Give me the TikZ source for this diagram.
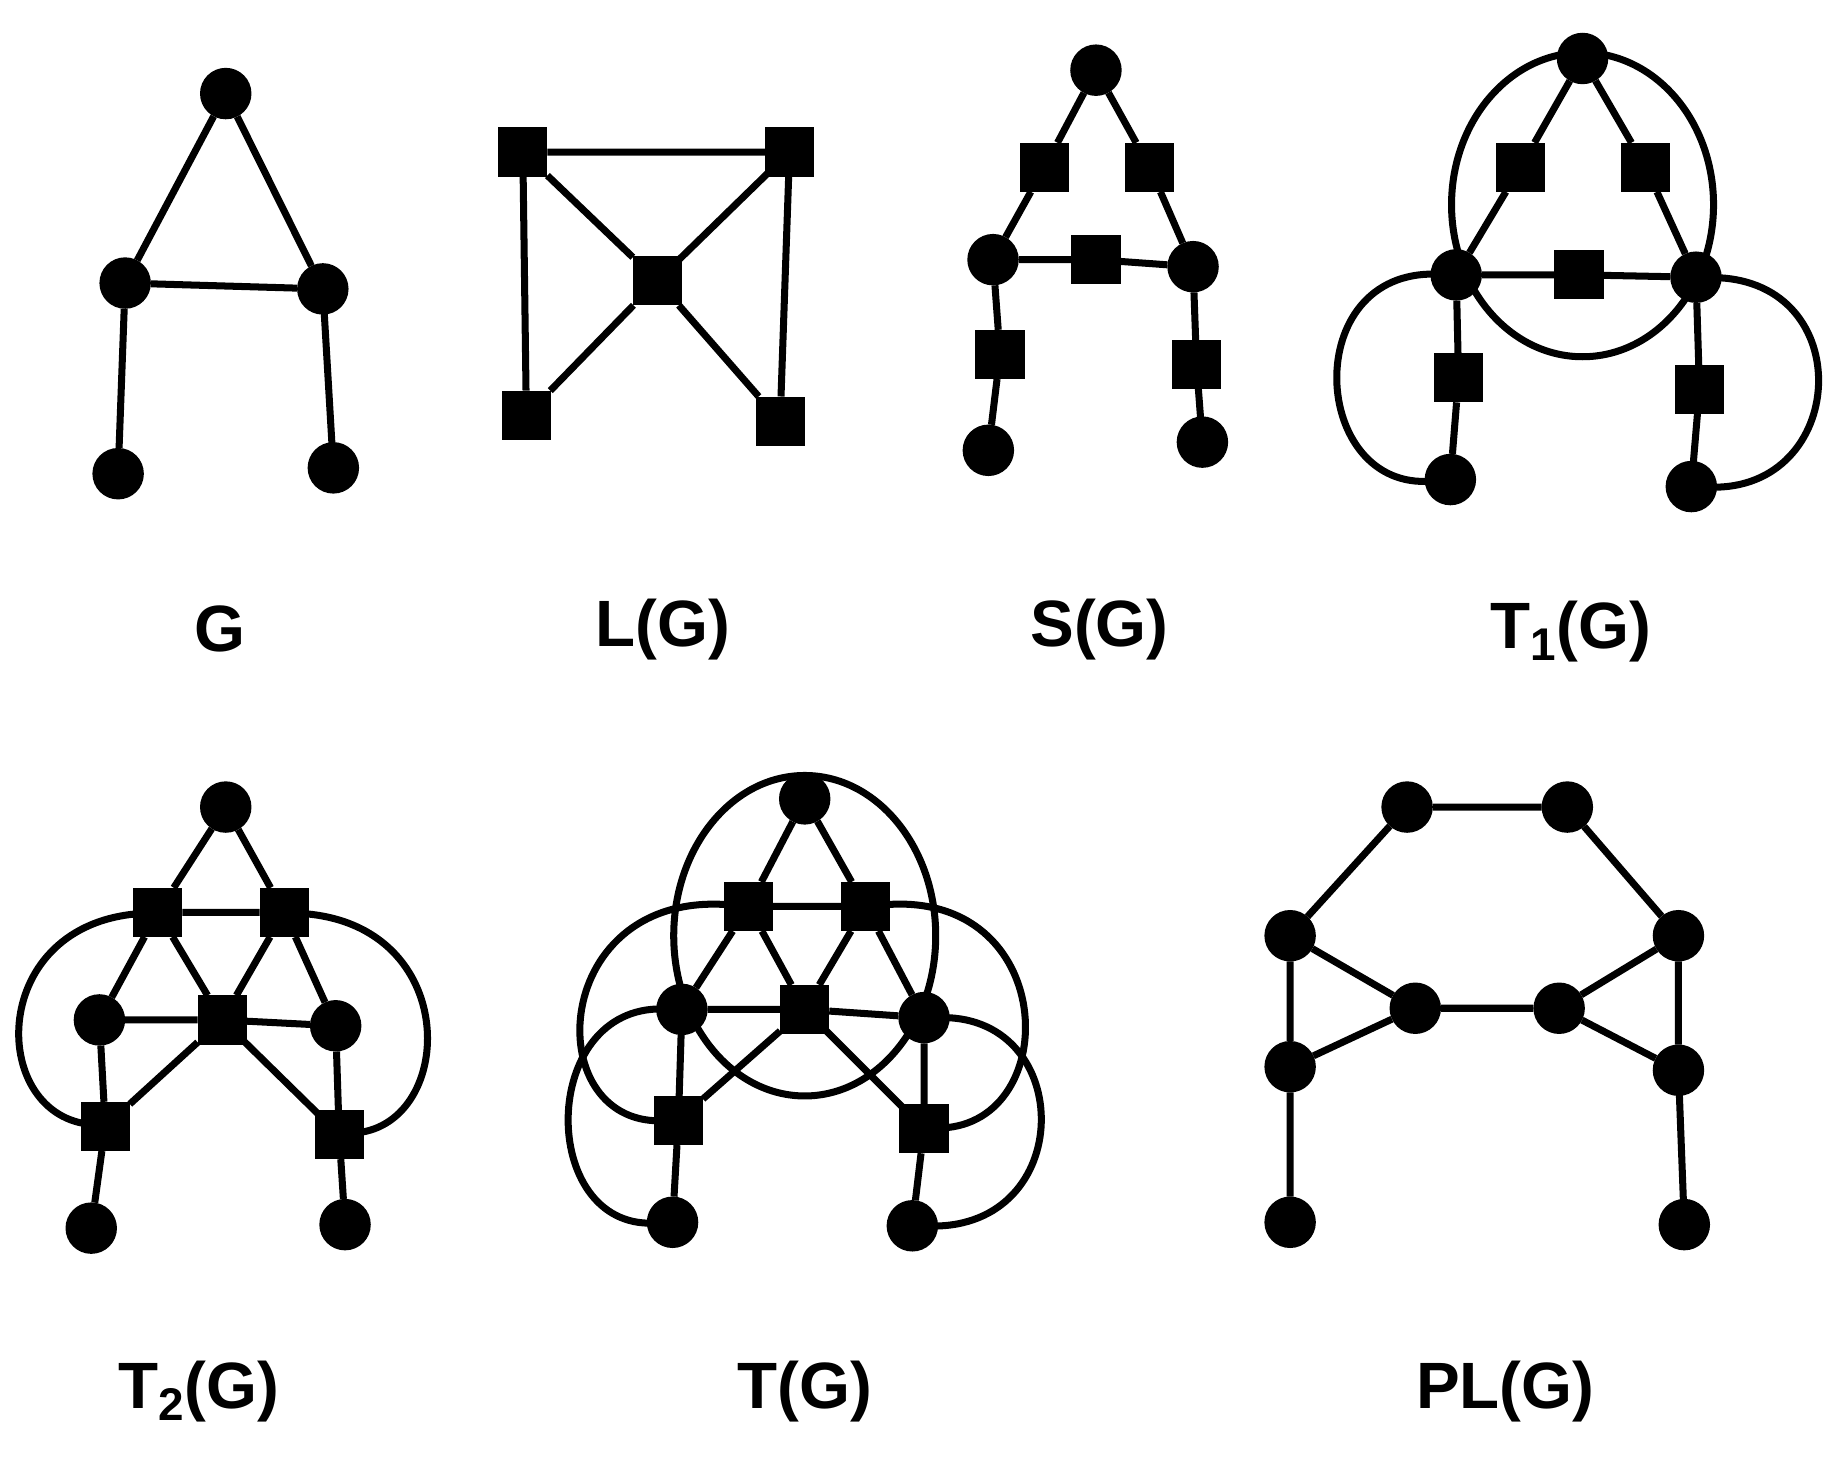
\documentclass[tikz,border=0pt]{standalone}
\usepackage{fontspec}
\setmainfont{Liberation Sans}
\begin{document}
\begin{tikzpicture}[x=0.5pt,y=-0.5pt,
  vtx/.style={circle,fill=black,inner sep=0pt,outer sep=0pt,minimum size=22pt},
  sq/.style={rectangle,fill=black,inner sep=0pt,outer sep=0pt,minimum size=21pt},
  lbl/.style={font=\fontsize{28}{32}\selectfont\bfseries},
  every path/.style={line width=3pt,shorten <=-3pt,shorten >=-3pt}]
\useasboundingbox (0,0) rectangle (1568,1246);
% G
\node[vtx] (g1) at (193,80) {}; \node[vtx] (g2) at (107,242) {}; \node[vtx] (g3) at (276,247) {};
\node[vtx] (g4) at (101,405) {}; \node[vtx] (g5) at (285,400) {};
\draw (g1)--(g2) (g2)--(g3) (g3)--(g1) (g2)--(g4) (g3)--(g5);
\node[lbl] (lg) at (188,538) {G};
% L(G)
\node[sq] (l1) at (447,130) {}; \node[sq] (l2) at (675,130) {}; \node[sq] (l3) at (562,240) {};
\node[sq] (l4) at (450,355) {}; \node[sq] (l5) at (667,360) {};
\draw (l1)--(l2) (l2)--(l5) (l5)--(l3) (l3)--(l1) (l1)--(l4) (l4)--(l3) (l3)--(l2);
\node[lbl] (llg) at (567,538) {L(G)};
% S(G)
\node[vtx] (s1) at (937,60) {}; \node[sq] (s2) at (893,143) {}; \node[sq] (s3) at (983,143) {};
\node[vtx] (s4) at (849,222) {}; \node[sq] (s5) at (937,222) {}; \node[vtx] (s6) at (1020,228) {};
\node[sq] (s7) at (855,303) {}; \node[sq] (s8) at (1023,312) {};
\node[vtx] (s9) at (845,385) {}; \node[vtx] (s10) at (1028,378) {};
\draw (s1)--(s2) (s2)--(s4) (s4)--(s5) (s5)--(s6) (s6)--(s3) (s3)--(s1) (s4)--(s7) (s7)--(s9) (s6)--(s8) (s8)--(s10);
\node[lbl] (lsg) at (940,538) {S(G)};
% T1(G)
\node[vtx] (a1) at (1353,50) {}; \node[sq] (a2) at (1300,143) {}; \node[sq] (a3) at (1407,143) {};
\node[vtx] (a4) at (1245,235) {}; \node[sq] (a5) at (1350,235) {}; \node[vtx] (a6) at (1450,237) {};
\node[sq] (a7) at (1247,323) {}; \node[sq] (a8) at (1453,333) {};
\node[vtx] (a9) at (1240,410) {}; \node[vtx] (a10) at (1446,416) {};
\draw (a1)--(a2) (a2)--(a4) (a4)--(a5) (a5)--(a6) (a6)--(a3) (a3)--(a1) (a4)--(a7) (a7)--(a9) (a6)--(a8) (a8)--(a10);
\draw[shorten <=0pt,shorten >=0pt] (1353,175) ellipse [x radius=112, y radius=130];
\draw (a4) .. controls (1110,230) and (1120,420) .. (a9);
\draw (a6) .. controls (1590,240) and (1580,420) .. (a10);
\node[lbl] (lt1) at (1343,540) {T\textsubscript{1}(G)};
% T2(G)
\node[vtx] (b1) at (193,690) {}; \node[sq] (b2) at (135,780) {}; \node[sq] (b3) at (243,780) {};
\node[vtx] (b4) at (85,872) {}; \node[sq] (b5) at (190,872) {}; \node[vtx] (b6) at (287,877) {};
\node[sq] (b7) at (90,963) {}; \node[sq] (b8) at (290,970) {};
\node[vtx] (b9) at (78,1050) {}; \node[vtx] (b10) at (295,1047) {};
\draw (b1)--(b2) (b2)--(b3) (b3)--(b1) (b2)--(b4) (b2)--(b5) (b5)--(b3) (b3)--(b6) (b4)--(b5) (b5)--(b6)
  (b4)--(b7) (b7)--(b9) (b6)--(b8) (b8)--(b10) (b5)--(b7) (b5)--(b8);
\draw (b2) .. controls (-10,790) and (-10,950) .. (b7);
\draw (b3) .. controls (395,790) and (390,960) .. (b8);
\node[lbl] (lt2) at (170,1190) {T\textsubscript{2}(G)};
% T(G)
\node[vtx] (c1) at (688,683) {}; \node[sq] (c2) at (640,775) {}; \node[sq] (c3) at (740,775) {};
\node[vtx] (c4) at (583,863) {}; \node[sq] (c5) at (688,863) {}; \node[vtx] (c6) at (790,870) {};
\node[sq] (c7) at (580,958) {}; \node[sq] (c8) at (790,965) {};
\node[vtx] (c9) at (575,1045) {}; \node[vtx] (c10) at (780,1048) {};
\draw (c1)--(c2) (c2)--(c3) (c3)--(c1) (c2)--(c4) (c2)--(c5) (c5)--(c3) (c3)--(c6) (c4)--(c5) (c5)--(c6)
  (c4)--(c7) (c7)--(c9) (c6)--(c8) (c8)--(c10) (c5)--(c7) (c5)--(c8);
\draw[shorten <=0pt,shorten >=0pt] (688,800) ellipse [x radius=112, y radius=137];
\draw (c2) .. controls (470,760) and (460,960) .. (c7);
\draw (c3) .. controls (905,760) and (910,960) .. (c8);
\draw (c4) .. controls (460,860) and (460,1050) .. (c9);
\draw (c6) .. controls (920,870) and (920,1050) .. (c10);
\node[lbl] (ltg) at (688,1190) {T(G)};
% PL(G)
\node[vtx] (p1) at (1203,690) {}; \node[vtx] (p2) at (1340,690) {};
\node[vtx] (p3) at (1103,800) {}; \node[vtx] (p4) at (1435,800) {};
\node[vtx] (p5) at (1210,862) {}; \node[vtx] (p6) at (1333,862) {};
\node[vtx] (p7) at (1103,912) {}; \node[vtx] (p8) at (1435,915) {};
\node[vtx] (p9) at (1103,1045) {}; \node[vtx] (p10) at (1440,1047) {};
\draw (p1)--(p2) (p2)--(p4) (p4)--(p6) (p6)--(p5) (p5)--(p3) (p3)--(p1) (p3)--(p7) (p7)--(p5) (p4)--(p8) (p8)--(p6)
  (p7)--(p9) (p8)--(p10);
\node[lbl] (lpl) at (1287,1190) {PL(G)};
\end{tikzpicture}
\end{document}
